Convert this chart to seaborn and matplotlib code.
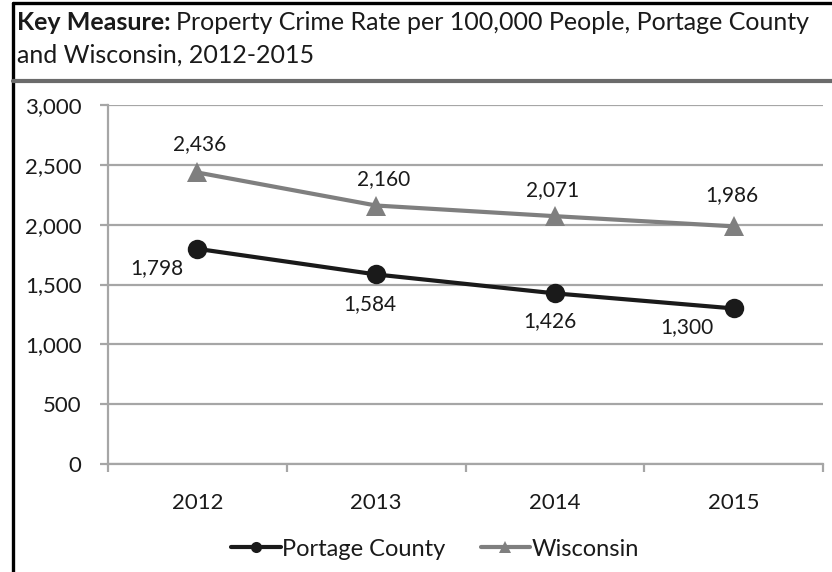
import pandas as pd
import matplotlib.pyplot as plt
import seaborn as sns
from matplotlib.lines import Line2D
from matplotlib.ticker import FuncFormatter

years = ['2012', '2013', '2014', '2015']
portage = [1798, 1584, 1426, 1300]
wisconsin = [2436, 2160, 2071, 1986]
series_names = ['Portage County', 'Wisconsin']

data = pd.DataFrame({
    'year': years * 2,
    'rate': portage + wisconsin,
    'area': [series_names[0]] * 4 + [series_names[1]] * 4,
})

sns.set_theme(style='white')
plt.rcParams['font.family'] = ['Lato', 'DejaVu Sans']

black = '#1a1a1a'
gray = '#7f7f7f'
grid = '#a6a6a6'
txt = '#1a1a1a'

fig = plt.figure(figsize=(8.32, 5.72), dpi=100)
ax = fig.add_axes([108 / 832, 1 - 464 / 572, (823 - 108) / 832, (464 - 105) / 572])

sns.lineplot(data=data, x='year', y='rate', hue='area', style='area',
             palette={series_names[0]: black, series_names[1]: gray},
             markers={series_names[0]: 'o', series_names[1]: '^'},
             dashes=False, linewidth=3, markersize=14, markeredgewidth=0,
             legend=False, ax=ax)

ax.set_xlim(-0.5, 3.5)
ax.set_ylim(0, 3000)
ax.set_yticks(range(0, 3001, 500))
ax.yaxis.set_major_formatter(FuncFormatter(lambda v, p: f'{int(v):,}'))
ax.set_xticks(range(4))
ax.set_xticklabels(years)
ax.set_xlabel('')
ax.set_ylabel('')
ax.grid(axis='y', color=grid, linewidth=1.6)
ax.grid(axis='x', visible=False)
for s in ['top', 'right']:
    ax.spines[s].set_visible(False)
for s in ['left', 'bottom']:
    ax.spines[s].set_color(grid)
    ax.spines[s].set_linewidth(1.6)

# tick marks on the boundaries between categories on x
ax.set_xticks([-0.5, 0.5, 1.5, 2.5, 3.5], minor=True)
ax.tick_params(axis='x', which='major', length=0, labelsize=16, colors=txt, pad=21)
ax.tick_params(axis='x', which='minor', length=6, width=1.6, color=grid, direction='out', bottom=True)
ax.tick_params(axis='y', length=6, width=1.6, color=grid, labelsize=16, colors=txt, left=True, pad=13)

# data labels
wi_off = [(2, 28), (7, 26), (-2, 26), (-2, 31)]
pc_off = [(-41, -19), (-6, -30), (-5, -28), (-47, -19)]
for i, v in enumerate(wisconsin):
    ax.annotate(f'{v:,}', (i, v), xytext=wi_off[i], textcoords='offset pixels',
                ha='center', va='center', fontsize=15, color=txt)
for i, v in enumerate(portage):
    ax.annotate(f'{v:,}', (i, v), xytext=pc_off[i], textcoords='offset pixels',
                ha='center', va='center', fontsize=15, color=txt)

# legend
handles = [Line2D([], [], color=black, lw=3, marker='o', markersize=8, markeredgewidth=0),
           Line2D([], [], color=gray, lw=3, marker='^', markersize=9, markeredgewidth=0)]
fig.legend(handles, series_names, loc='center', bbox_to_anchor=(435 / 832, 1 - 549 / 572),
           ncol=2, frameon=False, fontsize=17, handlelength=2.1, handletextpad=0.05,
           columnspacing=1.5, labelcolor=txt)

# title with bold lead-in
t1 = fig.text(17 / 832, 1 - 22 / 572, 'Key Measure:', fontsize=18, weight='bold',
              va='center', ha='left', color=txt)
fig.canvas.draw()
bb = t1.get_window_extent()
fig.text((bb.x1 + 5) / 832, 1 - 22 / 572, 'Property Crime Rate per 100,000 People, Portage County',
         fontsize=18, va='center', ha='left', color=txt)
fig.text(17 / 832, 1 - 55 / 572, 'and Wisconsin, 2012-2015', fontsize=18, va='center',
         ha='left', color=txt)

# frame lines
fig.add_artist(Line2D([13 / 832, 13 / 832], [0, 1 - 3 / 572], color='black', lw=2.4))
fig.add_artist(Line2D([13 / 832, 1], [1 - 3 / 572, 1 - 3 / 572], color='black', lw=2.4))
fig.add_artist(Line2D([13 / 832, 1], [1 - 81 / 572, 1 - 81 / 572], color='#6b6b6b', lw=3))

fig.savefig('out.png', dpi=100)
